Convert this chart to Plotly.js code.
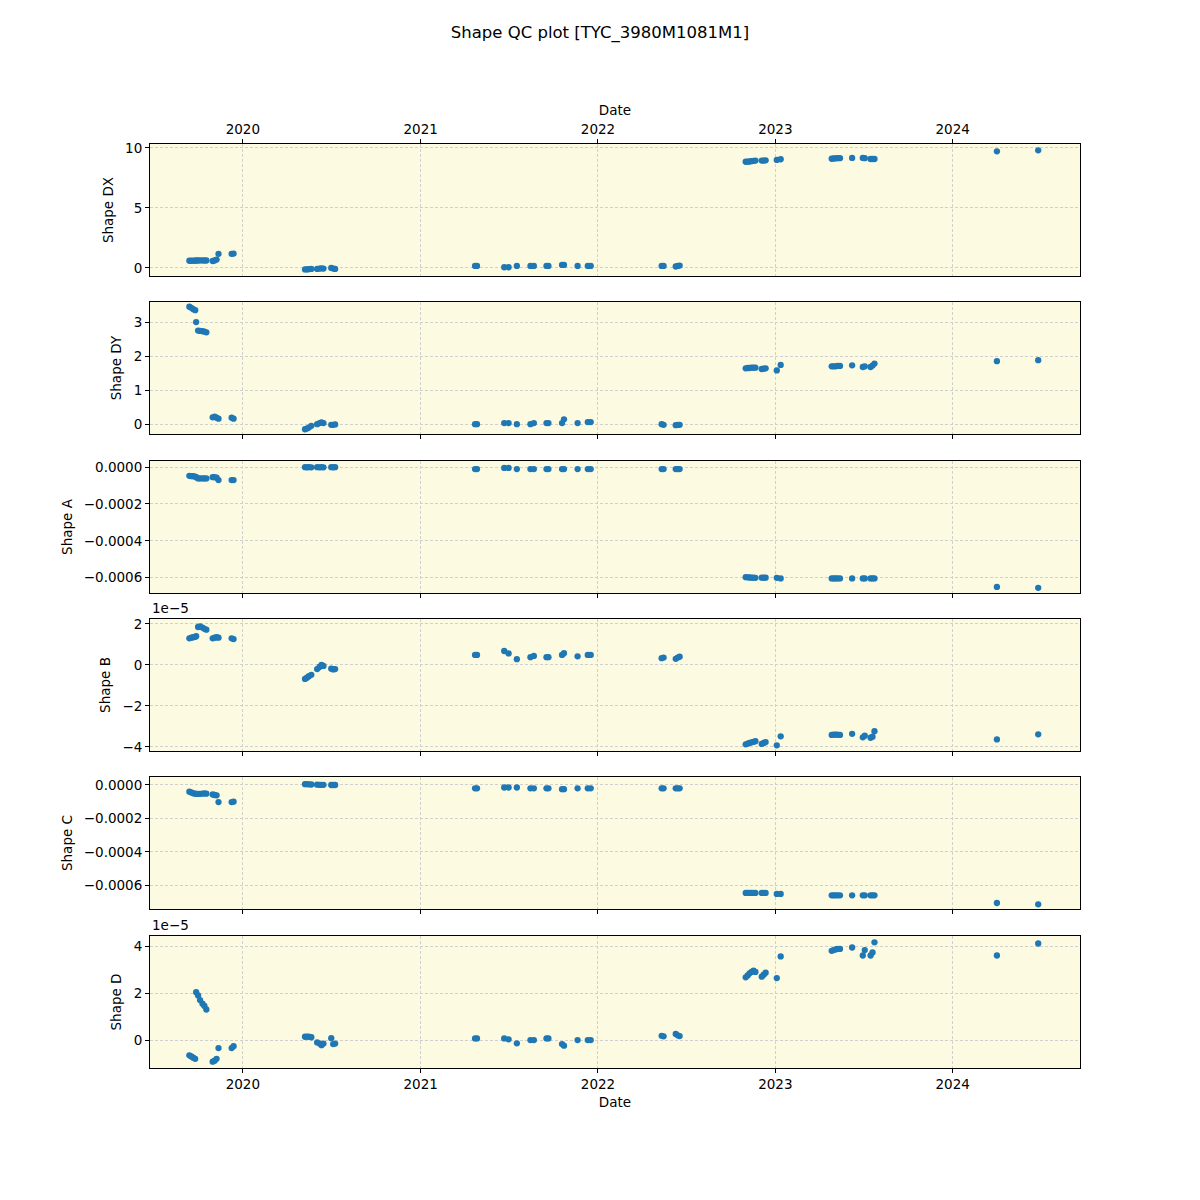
<!DOCTYPE html>
<html>
<head>
<meta charset="utf-8">
<script src="https://cdn.plot.ly/plotly-3.0.1.min.js"></script>
<style>html,body{margin:0;padding:0;background:#fff;}#chart{width:1200px;height:1200px;}</style>
</head>
<body>
<div id="chart"></div>
<script>
const dates = [
  "2019-09-13","2019-09-17","2019-09-21","2019-09-25","2019-09-27","2019-10-01","2019-10-05","2019-10-10","2019-10-14","2019-10-18","2019-10-31","2019-11-04","2019-11-08","2019-11-12","2019-12-09","2019-12-13",
  "2020-05-08","2020-05-12","2020-05-16","2020-05-21","2020-06-02","2020-06-07","2020-06-11","2020-06-15","2020-07-01","2020-07-05","2020-07-09",
  "2021-04-23","2021-04-27","2021-06-22","2021-07-01","2021-07-18","2021-08-15","2021-08-22","2021-09-17","2021-09-21","2021-10-19","2021-10-23","2021-11-20","2021-12-11","2021-12-17",
  "2022-05-12","2022-05-16","2022-06-10","2022-06-14","2022-06-18",
  "2022-11-01","2022-11-05","2022-11-09","2022-11-13","2022-11-17","2022-11-21","2022-12-04","2022-12-08","2022-12-12","2023-01-04","2023-01-12",
  "2023-04-27","2023-05-01","2023-05-05","2023-05-09","2023-05-14","2023-06-08","2023-06-30","2023-07-04","2023-07-16","2023-07-20","2023-07-24",
  "2024-04-01","2024-06-25"
];
const shapeDX = [
  0.60,0.60,0.61,0.61,0.62,0.62,0.63,0.63,0.62,0.62,0.58,0.62,0.70,1.17,1.17,1.20,
  -0.12,-0.12,-0.10,-0.08,-0.08,-0.05,-0.03,-0.05,0.00,-0.05,-0.08,
  0.17,0.17,0.06,0.06,0.17,0.17,0.17,0.17,0.17,0.25,0.25,0.17,0.17,0.17,
  0.17,0.17,0.12,0.17,0.20,
  8.85,8.86,8.87,8.90,8.93,8.95,8.95,8.95,8.97,9.00,9.06,
  9.10,9.12,9.14,9.15,9.15,9.17,9.17,9.15,9.08,9.08,9.08,
  9.72,9.80
];
const shapeDY = [
  3.45,3.42,3.38,3.35,3.00,2.75,2.74,2.73,2.72,2.70,0.20,0.22,0.19,0.16,0.19,0.16,
  -0.15,-0.13,-0.10,-0.05,0.00,0.03,0.05,0.03,-0.02,-0.02,-0.01,
  0.00,0.00,0.03,0.03,0.00,0.00,0.03,0.03,0.03,0.03,0.14,0.03,0.06,0.06,
  0.00,-0.02,-0.03,-0.02,-0.02,
  1.64,1.65,1.65,1.66,1.66,1.66,1.62,1.63,1.64,1.58,1.74,
  1.70,1.70,1.70,1.71,1.71,1.73,1.68,1.70,1.68,1.72,1.78,
  1.85,1.88
];
const shapeA = [
  -0.000048,-0.000050,-0.000050,-0.000052,-0.000055,-0.000062,-0.000062,-0.000062,-0.000062,-0.000062,-0.000055,-0.000055,-0.000058,-0.000071,-0.000071,-0.000071,
  -0.000001,-0.000002,-0.000001,-0.000002,-0.000001,-0.000002,-0.000001,-0.000002,-0.000001,-0.000002,-0.000001,
  -0.000011,-0.000011,-0.000005,-0.000005,-0.000011,-0.000011,-0.000011,-0.000011,-0.000011,-0.000011,-0.000011,-0.000011,-0.000011,-0.000011,
  -0.000011,-0.000011,-0.000011,-0.000011,-0.000011,
  -0.000597,-0.000598,-0.000599,-0.000600,-0.000600,-0.000601,-0.000600,-0.000600,-0.000600,-0.000601,-0.000604,
  -0.000604,-0.000604,-0.000604,-0.000604,-0.000604,-0.000604,-0.000604,-0.000604,-0.000604,-0.000604,-0.000604,
  -0.000650,-0.000655
];
const shapeB = [
  1.30e-5,1.33e-5,1.35e-5,1.37e-5,1.40e-5,1.85e-5,1.88e-5,1.82e-5,1.76e-5,1.72e-5,1.30e-5,1.33e-5,1.35e-5,1.33e-5,1.30e-5,1.26e-5,
  -0.68e-5,-0.62e-5,-0.55e-5,-0.48e-5,-0.20e-5,-0.10e-5,0.00e-5,-0.05e-5,-0.18e-5,-0.22e-5,-0.20e-5,
  0.49e-5,0.49e-5,0.68e-5,0.56e-5,0.28e-5,0.38e-5,0.44e-5,0.38e-5,0.38e-5,0.49e-5,0.57e-5,0.42e-5,0.49e-5,0.49e-5,
  0.33e-5,0.36e-5,0.30e-5,0.36e-5,0.40e-5,
  -3.87e-5,-3.84e-5,-3.80e-5,-3.77e-5,-3.75e-5,-3.72e-5,-3.85e-5,-3.80e-5,-3.76e-5,-3.92e-5,-3.48e-5,
  -3.41e-5,-3.40e-5,-3.40e-5,-3.40e-5,-3.41e-5,-3.36e-5,-3.53e-5,-3.45e-5,-3.55e-5,-3.50e-5,-3.23e-5,
  -3.63e-5,-3.38e-5
];
const shapeC = [
  -0.000040,-0.000045,-0.000050,-0.000052,-0.000053,-0.000053,-0.000053,-0.000052,-0.000050,-0.000052,-0.000057,-0.000060,-0.000062,-0.000102,-0.000102,-0.000100,
  0.000005,0.000005,0.000004,0.000003,0.000002,0.000001,0.000001,0.000001,0.000000,0.000000,0.000000,
  -0.000020,-0.000020,-0.000015,-0.000015,-0.000015,-0.000020,-0.000020,-0.000020,-0.000020,-0.000025,-0.000025,-0.000020,-0.000020,-0.000020,
  -0.000020,-0.000020,-0.000020,-0.000020,-0.000020,
  -0.000646,-0.000646,-0.000646,-0.000646,-0.000646,-0.000646,-0.000646,-0.000646,-0.000646,-0.000652,-0.000652,
  -0.000660,-0.000660,-0.000660,-0.000660,-0.000660,-0.000660,-0.000660,-0.000660,-0.000660,-0.000660,-0.000660,
  -0.000706,-0.000714
];
const shapeD = [
  -0.65e-5,-0.70e-5,-0.75e-5,-0.80e-5,2.04e-5,1.90e-5,1.70e-5,1.55e-5,1.45e-5,1.30e-5,-0.92e-5,-0.88e-5,-0.80e-5,-0.34e-5,-0.34e-5,-0.26e-5,
  0.14e-5,0.15e-5,0.14e-5,0.12e-5,-0.10e-5,-0.15e-5,-0.22e-5,-0.15e-5,0.08e-5,-0.17e-5,-0.15e-5,
  0.07e-5,0.07e-5,0.07e-5,0.03e-5,-0.14e-5,0.00e-5,0.00e-5,0.07e-5,0.07e-5,-0.17e-5,-0.24e-5,0.00e-5,0.00e-5,0.00e-5,
  0.18e-5,0.16e-5,0.26e-5,0.20e-5,0.17e-5,
  2.67e-5,2.75e-5,2.84e-5,2.90e-5,2.95e-5,2.90e-5,2.70e-5,2.78e-5,2.87e-5,2.64e-5,3.56e-5,
  3.80e-5,3.83e-5,3.86e-5,3.88e-5,3.88e-5,3.94e-5,3.60e-5,3.83e-5,3.60e-5,3.73e-5,4.16e-5,
  3.60e-5,4.11e-5
];
const yearTicks = ["2020-01-01","2021-01-01","2022-01-01","2023-01-01","2024-01-01"];
const yearLabels = ["2020","2021","2022","2023","2024"];
const panelTitles = ["Shape DX","Shape DY","Shape A","Shape B","Shape C","Shape D"];
const series = [shapeDX, shapeDY, shapeA, shapeB, shapeC, shapeD];

const FONT = "DejaVu Sans, sans-serif";
const domains = [[0.77,0.88],[0.63833,0.74833],[0.50583,0.61583],[0.37417,0.48417],[0.2425,0.3525],[0.11,0.22]];
const yRanges = [[-0.67,10.33],[-0.29,3.59],[-0.000683,0.0000325],[-4.195e-5,2.24e-5],[-0.000742,0.0000478],[-1.19e-5,4.43e-5]];
const yAxisExtra = [
  {tickvals:[0,5,10], ticktext:["0","5","10"]},
  {tickvals:[0,1,2,3], ticktext:["0","1","2","3"]},
  {tickvals:[0,-0.0002,-0.0004,-0.0006], ticktext:["0.0000","\u22120.0002","\u22120.0004","\u22120.0006"]},
  {tickvals:[2e-5,0,-2e-5,-4e-5], ticktext:["2","0","\u22122","\u22124"]},
  {tickvals:[0,-0.0002,-0.0004,-0.0006], ticktext:["0.0000","\u22120.0002","\u22120.0004","\u22120.0006"]},
  {tickvals:[4e-5,2e-5,0], ticktext:["4","2","0"]}
];

const traces = [];
const layout = {
  width:1200, height:1200,
  paper_bgcolor:"#ffffff",
  margin:{l:0,r:0,t:0,b:0},
  showlegend:false,
  font:{family:FONT, size:13.5, color:"#000"},
  title:{text:"Shape QC plot [TYC_3980M1081M1]", x:0.5, xanchor:"center", y:1-32/1200, yanchor:"middle", font:{family:FONT,size:16.5,color:"#000"}},
  annotations:[],
  shapes:[]
};
const xr = ["2019-06-24","2024-09-19"];
const GRID = "#d0d0d0";
const DASH = "3px,2px";
for (let i=0;i<6;i++){
  const xa = i===0 ? "x" : "x"+(i+1);
  const ya = i===0 ? "y" : "y"+(i+1);
  traces.push({type:"scatter", mode:"markers", x:dates, y:series[i], xaxis:xa, yaxis:ya,
    marker:{color:"#1f77b4", size:6.3, line:{width:0}}, hoverinfo:"x+y"});
  const xkey = i===0 ? "xaxis" : "xaxis"+(i+1);
  const ykey = i===0 ? "yaxis" : "yaxis"+(i+1);
  const xaxis = {
    domain:[0.125,0.9], anchor:ya, type:"date", range:xr,
    tickvals:yearTicks, ticktext:yearLabels,
    showgrid:true, gridcolor:GRID, griddash:DASH, gridwidth:1,
    zeroline:false, showline:true, mirror:true, linecolor:"#000", linewidth:1,
    ticks:"outside", ticklen:4, tickcolor:"#000", tickwidth:1,
    tickfont:{family:FONT,size:13.5,color:"#000"},
    showticklabels:false
  };
  if (i===0){
    xaxis.side = "top";
    xaxis.showticklabels = true;
    xaxis.title = {text:"Date", font:{family:FONT,size:13.5,color:"#000"}, standoff:1};
  }
  if (i===5){
    xaxis.showticklabels = true;
    xaxis.title = {text:"Date", font:{family:FONT,size:13.5,color:"#000"}, standoff:6};
  }
  if (i>0) xaxis.matches = "x";
  layout[xkey] = xaxis;
  layout[ykey] = Object.assign({
    domain:domains[i], anchor:xa, range:yRanges[i],
    showgrid:true, gridcolor:GRID, griddash:DASH, gridwidth:1,
    zeroline:false, showline:true, mirror:true, linecolor:"#000", linewidth:1,
    ticks:"outside", ticklen:4, tickcolor:"#000", tickwidth:1,
    tickfont:{family:FONT,size:13.5,color:"#000"},
    title:{text:panelTitles[i], font:{family:FONT,size:13.5,color:"#000"}, standoff:8},
    tickmode:"array"
  }, yAxisExtra[i]);
  layout.shapes.push({type:"rect", xref:"paper", yref:"paper", layer:"below",
    x0:0.125, x1:0.9, y0:domains[i][0], y1:domains[i][1],
    fillcolor:"#fcfbe2", line:{width:0}});
}
layout.plot_bgcolor = "rgba(0,0,0,0)";
layout.annotations.push({text:"1e\u22125", xref:"paper", yref:"paper", x:0.125, y:domains[3][1], xanchor:"left", yanchor:"bottom", showarrow:false, font:{family:FONT,size:13.5,color:"#000"}, yshift:1});
layout.annotations.push({text:"1e\u22125", xref:"paper", yref:"paper", x:0.125, y:domains[5][1], xanchor:"left", yanchor:"bottom", showarrow:false, font:{family:FONT,size:13.5,color:"#000"}, yshift:1});

Plotly.newPlot("chart", traces, layout, {displayModeBar:false, staticPlot:true});
</script>
</body>
</html>
